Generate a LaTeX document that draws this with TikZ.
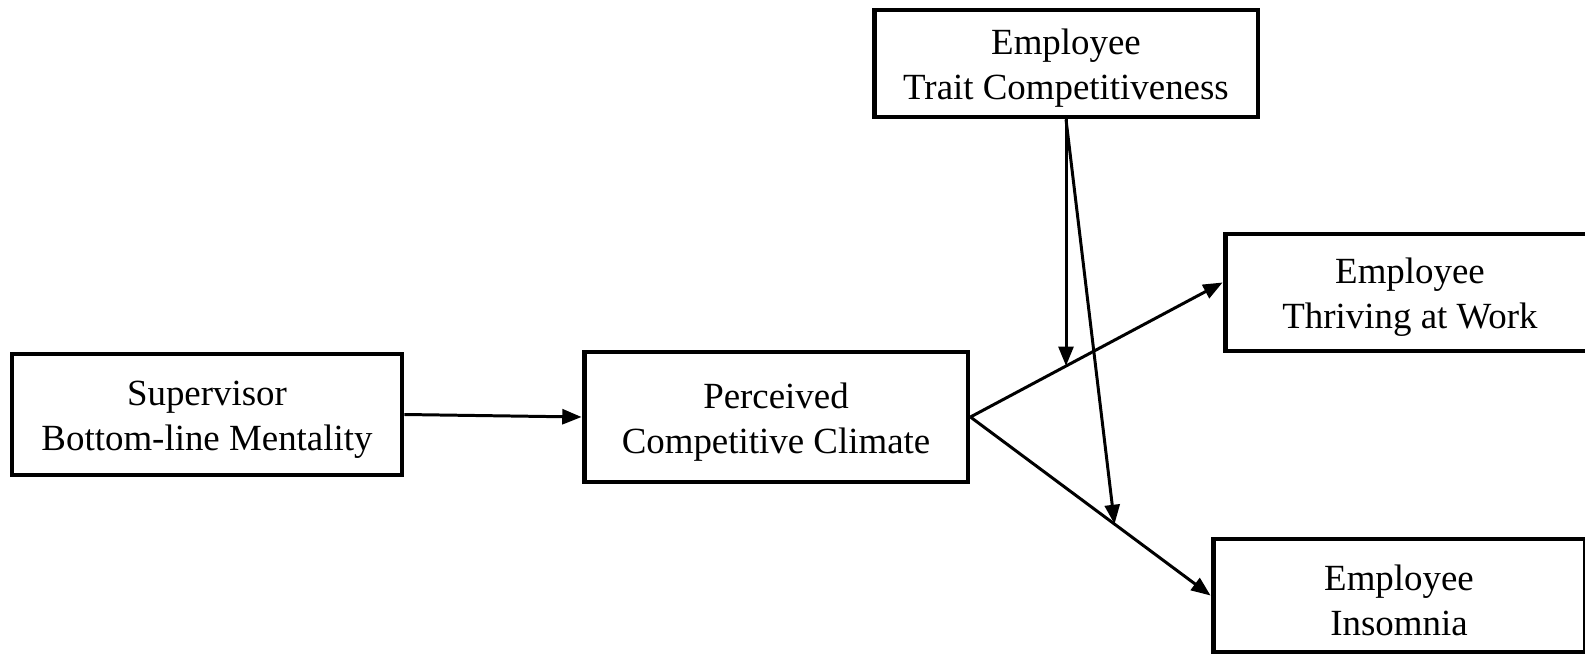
\documentclass[tikz,border=0pt]{standalone}
\usepackage{fontspec}
\setmainfont{Liberation Serif}
\usetikzlibrary{arrows.meta,positioning,calc}
\newcommand{\boxstrut}{\rule{0pt}{20pt}}
\tikzset{
  varbox/.style={draw,line width=2.8pt,align=center,inner sep=0pt,
    font=\fontsize{21}{25.5}\selectfont},
  patharrow/.style={-{Triangle[length=11pt,width=8.5pt]},line width=1.7pt}
}

\begin{document}
\begin{tikzpicture}[x=0.02cm,y=-0.02cm]
  \useasboundingbox (0,0) rectangle (1585,655);
  \node[varbox,minimum width=7.8cm,minimum height=2.42cm] (sup) at (207,414.5)
    {\boxstrut Supervisor\\Bottom-line Mentality};
  \node[varbox,minimum width=7.68cm,minimum height=2.6cm] (per) at (776,417)
    {\boxstrut Perceived\\Competitive Climate};
  \node[varbox,minimum width=7.68cm,minimum height=2.14cm] (trait) at (1066,63.5)
    {\boxstrut Employee\\Trait Competitiveness};
  \node[varbox,minimum width=7.4cm,minimum height=2.34cm] (thr) at (1410,292.5)
    {\boxstrut Employee\\Thriving at Work};
  \node[varbox,minimum width=7.44cm,minimum height=2.26cm] (ins) at (1399,595.5)
    {\boxstrut Employee\\Insomnia};
  % moderation points on the two outcome paths
  \coordinate (thrin) at ($(thr.west)+(0,-10)$);
  \path (per.east) -- (thrin) coordinate[pos=.38] (m1);
  \path (per.east) -- (ins.west) coordinate[pos=.6] (m2);
  \draw[patharrow] (sup.east) -- (per.west);
  \draw[patharrow] (per.east) -- (thrin);
  \draw[patharrow] (per.east) -- (ins.west);
  \draw[patharrow] (trait.south) -- (trait.south |- m1);
  \draw[patharrow] (trait.south) -- (m2);
\end{tikzpicture}
\end{document}
